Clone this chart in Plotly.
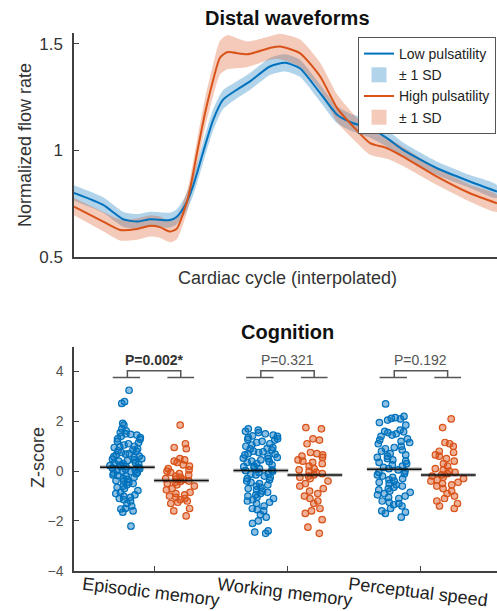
import plotly.graph_objects as go

# ---------------- Top panel data: distal waveforms ----------------
t_low = [0, 6.9, 11.6, 14.9, 18.0, 22.7, 24.3, 26.2, 28.1, 30.5, 32.9, 35.2, 38.5, 41.6,
         46.3, 49.9, 53.4, 58.2, 62.2, 66.0, 70.0, 74.0, 77.8, 85.8, 93.6, 100]
flow_low = [0.80, 0.744, 0.677, 0.666, 0.677, 0.673, 0.689, 0.74, 0.83, 0.99, 1.143, 1.237, 1.284, 1.323,
            1.393, 1.41, 1.385, 1.268, 1.167, 1.127, 1.104, 1.057, 1.002, 0.916, 0.854, 0.807]
sd_low = [0.036, 0.036, 0.035, 0.035, 0.035, 0.035, 0.035, 0.04, 0.045, 0.05, 0.05, 0.045, 0.04, 0.04,
          0.04, 0.04, 0.04, 0.04, 0.04, 0.04, 0.045, 0.04, 0.035, 0.032, 0.03, 0.03]

t_high = [0, 6.9, 10.9, 14.9, 18.0, 20.3, 22.7, 24.3, 27.0, 29.1, 31.0, 32.9, 34.5, 36.2,
          40.9, 46.3, 48.7, 53.4, 58.2, 62.2, 66.0, 70.0, 74.0, 77.8, 85.8, 93.6, 100]
flow_high = [0.736, 0.666, 0.627, 0.631, 0.646, 0.64, 0.619, 0.633, 0.78, 0.99, 1.176, 1.33, 1.434, 1.46,
             1.45, 1.48, 1.487, 1.456, 1.346, 1.198, 1.112, 1.034, 1.01, 0.971, 0.877, 0.799, 0.752]
sd_high = [0.04, 0.045, 0.05, 0.05, 0.05, 0.05, 0.05, 0.05, 0.05, 0.06, 0.07, 0.075, 0.08, 0.08,
           0.06, 0.055, 0.06, 0.065, 0.065, 0.065, 0.06, 0.055, 0.05, 0.045, 0.04, 0.04, 0.04]

y_ticks_top = [0.5, 1, 1.5]
y_ticktext_top = ["0.5", "1", "1.5"]

# ---------------- Bottom panel data: cognition ----------------
categories = ["Episodic memory", "Working memory", "Perceptual speed"]
cat_pos = [1, 2, 3]
p_values = ["<b>P=0.002*</b>", "P=0.321", "P=0.192"]

ep_low = [3.25, 2.79, 2.72, 1.92, 1.85, 1.7, 1.62, 1.55, 1.5, 1.48, 1.45, 1.4, 1.35, 1.3, 1.28, 1.2,
          1.15, 1.1, 1.05, 1.0, 0.98, 0.95, 0.9, 0.85, 0.82, 0.8, 0.75, 0.7, 0.68, 0.65, 0.6, 0.58,
          0.55, 0.5, 0.48, 0.45, 0.42, 0.4, 0.35, 0.32, 0.3, 0.28, 0.25, 0.22, 0.2, 0.18, 0.15, 0.12,
          0.1, 0.08, 0.05, 0.02, 0.0, -0.02, -0.05, -0.08, -0.1, -0.15, -0.18, -0.2, -0.25, -0.3,
          -0.33, -0.38, -0.4, -0.45, -0.5, -0.55, -0.6, -0.65, -0.7, -0.78, -0.85, -0.9, -0.95, -1.0,
          -1.05, -1.1, -1.15, -1.2, -1.3, -1.4, -1.5, -1.52, -1.6, -1.65, -2.21]
ep_high = [1.85, 1.1, 0.95, 0.9, 0.5, 0.45, 0.4, 0.35, 0.25, 0.2, 0.1, 0.05, 0.0, -0.05, -0.1, -0.15,
           -0.2, -0.25, -0.3, -0.32, -0.35, -0.4, -0.42, -0.45, -0.5, -0.55, -0.6, -0.7, -0.75, -0.85,
           -0.9, -0.95, -1.0, -1.05, -1.1, -1.15, -1.2, -1.25, -1.3, -1.5, -1.6, -1.8]
wm_low = [1.7, 1.65, 1.6, 1.55, 1.5, 1.45, 1.42, 1.4, 1.35, 1.3, 1.28, 1.25, 1.2, 1.15, 1.1, 1.05, 1.0,
          0.95, 0.92, 0.9, 0.85, 0.8, 0.78, 0.75, 0.7, 0.68, 0.65, 0.6, 0.55, 0.52, 0.5, 0.45, 0.4,
          0.38, 0.35, 0.3, 0.25, 0.2, 0.18, 0.15, 0.1, 0.05, 0.02, 0.0, -0.05, -0.1, -0.12, -0.15,
          -0.2, -0.25, -0.3, -0.35, -0.4, -0.45, -0.5, -0.55, -0.6, -0.65, -0.7, -0.75, -0.8, -0.85,
          -0.9, -0.95, -1.0, -1.05, -1.1, -1.15, -1.2, -1.25, -1.3, -1.4, -1.5, -1.55, -1.6, -1.75,
          -1.85, -2.0, -2.1, -2.4, -2.45, -2.5]
wm_high = [1.75, 1.7, 1.3, 1.25, 1.1, 0.75, 0.7, 0.65, 0.6, 0.55, 0.45, 0.4, 0.35, 0.3, 0.2, 0.1, 0.05,
           0.0, -0.05, -0.1, -0.15, -0.2, -0.25, -0.3, -0.4, -0.5, -0.6, -0.7, -0.8, -0.9, -1.0, -1.1,
           -1.2, -1.3, -1.5, -1.6, -1.7, -1.95, -2.25, -2.5]
ps_low = [2.7, 2.2, 2.15, 2.12, 2.1, 2.05, 1.95, 1.85, 1.65, 1.6, 1.58, 1.55, 1.5, 1.45, 1.4, 1.3, 1.25,
          1.2, 1.15, 1.1, 1.0, 0.95, 0.9, 0.85, 0.8, 0.7, 0.65, 0.6, 0.55, 0.5, 0.45, 0.4, 0.35, 0.3,
          0.25, 0.2, 0.15, 0.1, 0.05, 0.0, -0.05, -0.1, -0.15, -0.2, -0.25, -0.3, -0.35, -0.4, -0.45,
          -0.5, -0.55, -0.6, -0.65, -0.7, -0.75, -0.8, -0.85, -0.9, -0.95, -1.0, -1.05, -1.1, -1.2,
          -1.25, -1.3, -1.35, -1.4, -1.5, -1.6, -1.65, -1.7, -1.85]
ps_high = [2.1, 1.75, 1.15, 1.1, 1.0, 0.8, 0.75, 0.65, 0.6, 0.5, 0.4, 0.3, 0.2, 0.1, 0.05, 0.0, -0.05,
           -0.1, -0.15, -0.2, -0.25, -0.3, -0.35, -0.4, -0.45, -0.5, -0.55, -0.6, -0.7, -0.8, -0.9,
           -1.0, -1.1, -1.2, -1.3, -1.4, -1.5]

low_groups = [ep_low, wm_low, ps_low]
high_groups = [ep_high, wm_high, ps_high]
mean_low = [0.16, 0.03, 0.08]
mean_high = [-0.38, -0.15, -0.15]
z_ticks = [-4, -2, 0, 2, 4]

# ---------------- Styling ----------------
W, H = 497, 611
FONT = "Liberation Sans, Arial, Helvetica, sans-serif"
BLUE = "#0072BD"
ORANGE = "#D95319"
BLUE_SD = "rgba(0,114,189,0.30)"
ORANGE_SD = "rgba(217,83,25,0.30)"
AX = "#404040"


def px_x(p):
    return p / W


def px_y(p):
    return 1 - p / H


fig = go.Figure()


def band(t, m, s):
    up = [a + b for a, b in zip(m, s)]
    lo = [a - b for a, b in zip(m, s)]
    return list(t) + list(t)[::-1], up + lo[::-1]


# Top panel: SD bands then mean lines
bx, by = band(t_low, flow_low, sd_low)
fig.add_trace(go.Scatter(x=bx, y=by, fill="toself", fillcolor=BLUE_SD,
                         line=dict(width=0, shape="spline", smoothing=0.6), showlegend=False,
                         xaxis="x", yaxis="y", hoverinfo="skip"))
ox, oy = band(t_high, flow_high, sd_high)
fig.add_trace(go.Scatter(x=ox, y=oy, fill="toself", fillcolor=ORANGE_SD,
                         line=dict(width=0, shape="spline", smoothing=0.6), showlegend=False,
                         xaxis="x", yaxis="y", hoverinfo="skip"))
fig.add_trace(go.Scatter(x=t_low, y=flow_low, mode="lines", name="Low pulsatility",
                         line=dict(color=BLUE, width=2, shape="spline", smoothing=0.6),
                         legendrank=1, xaxis="x", yaxis="y"))
fig.add_trace(go.Scatter(x=t_high, y=flow_high, mode="lines", name="High pulsatility",
                         line=dict(color=ORANGE, width=2, shape="spline", smoothing=0.6),
                         legendrank=3, xaxis="x", yaxis="y"))
# legend entries for the SD bands (square swatches)
for col, rank in [(BLUE_SD, 2), (ORANGE_SD, 4)]:
    fig.add_trace(go.Scatter(x=[None], y=[None], mode="markers", name="± 1 SD",
                             marker=dict(symbol="square", size=15, color=col, line=dict(width=0)),
                             legendrank=rank, xaxis="x", yaxis="y"))

# Bottom panel: jittered points via box traces (box hidden)
OFF = 0.2
for i, c in enumerate(cat_pos):
    for vals, sign, col, rgba in [(low_groups[i], -1, BLUE, "rgba(0,114,189,0.45)"),
                                  (high_groups[i], 1, ORANGE, "rgba(217,83,25,0.45)")]:
        fig.add_trace(go.Box(y=vals, x0=c + sign * OFF, width=0.27, boxpoints="all", jitter=1,
                             pointpos=0, fillcolor="rgba(0,0,0,0)",
                             line=dict(color="rgba(0,0,0,0)", width=0),
                             marker=dict(color=rgba, size=6.5, line=dict(color=col, width=1.2)),
                             showlegend=False, xaxis="x2", yaxis="y2", hoverinfo="y"))

# Mean lines
for i, c in enumerate(cat_pos):
    for xs, m in [([c - 0.405, c + 0.005], mean_low[i]), ([c, c + 0.41], mean_high[i])]:
        fig.add_trace(go.Scatter(x=xs, y=[m, m], mode="lines",
                                 line=dict(color="rgba(0,0,0,0.25)", width=4),
                                 showlegend=False, xaxis="x2", yaxis="y2", hoverinfo="skip"))
        fig.add_trace(go.Scatter(x=xs, y=[m, m], mode="lines",
                                 line=dict(color="#111111", width=1.5),
                                 showlegend=False, xaxis="x2", yaxis="y2", hoverinfo="skip"))

# Brackets
shapes = []
for c in cat_pos:
    path = (f"M {c-0.31},3.76 L {c-0.105},3.76 M {c-0.2},3.76 L {c-0.2},4.03 L {c+0.2},4.03 "
            f"L {c+0.2},3.76 M {c+0.1},3.76 L {c+0.3},3.76")
    shapes.append(dict(type="path", path=path, xref="x2", yref="y2",
                       line=dict(color="#555555", width=1.5)))

annotations = []
annotations.append(dict(text="<b>Distal waveforms</b>", x=px_x(287), y=px_y(18), xref="paper",
                        yref="paper", showarrow=False, font=dict(size=20, color="#111"),
                        xanchor="center", yanchor="middle"))
annotations.append(dict(text="Cardiac cycle (interpolated)", x=px_x(287), y=px_y(278), xref="paper",
                        yref="paper", showarrow=False, font=dict(size=18, color="#333"),
                        xanchor="center", yanchor="middle"))
annotations.append(dict(text="Normalized flow rate", x=px_x(25), y=px_y(145), xref="paper",
                        yref="paper", showarrow=False, textangle=-90, font=dict(size=18, color="#333"),
                        xanchor="center", yanchor="middle"))
annotations.append(dict(text="<b>Cognition</b>", x=px_x(287), y=px_y(332), xref="paper",
                        yref="paper", showarrow=False, font=dict(size=20, color="#111"),
                        xanchor="center", yanchor="middle"))
annotations.append(dict(text="Z-score", x=px_x(38), y=px_y(458), xref="paper",
                        yref="paper", showarrow=False, textangle=-90, font=dict(size=18, color="#333"),
                        xanchor="center", yanchor="middle"))
for c, lab, p in zip(cat_pos, categories, p_values):
    annotations.append(dict(text=lab, x=c - 0.02, y=px_y(592), xref="x2", yref="paper",
                            showarrow=False, textangle=7, font=dict(size=18, color="#222"),
                            xanchor="center", yanchor="middle"))
    annotations.append(dict(text=p, x=c, y=4.47, xref="x2", yref="y2", showarrow=False,
                            font=dict(size=14, color="#333" if "<b>" in p else "#555"),
                            xanchor="center", yanchor="middle"))

fig.update_layout(
    width=W, height=H, autosize=False, margin=dict(l=0, r=0, t=0, b=0, pad=0, autoexpand=False),
    paper_bgcolor="white", plot_bgcolor="white",
    font=dict(family=FONT, color="#333"),
    showlegend=True,
    legend=dict(x=0.998, y=px_y(37), xanchor="right", yanchor="top", bgcolor="white",
                bordercolor="#555", borderwidth=1, font=dict(size=14, color="#222"),
                tracegroupgap=0, itemwidth=30),
    xaxis=dict(domain=[px_x(74), 1], anchor="y", range=[0, 100], showline=True, linecolor=AX,
               linewidth=1.5, showgrid=False, zeroline=False, showticklabels=False, ticks="",
               automargin=False),
    yaxis=dict(domain=[px_y(257), px_y(33)], anchor="x", range=[0.5, 1.55], showline=True,
               linecolor=AX, linewidth=1.5, showgrid=False, zeroline=False,
               tickvals=y_ticks_top, ticktext=y_ticktext_top, ticks="inside", ticklen=5,
               tickcolor=AX, tickfont=dict(size=17, color="#333"), ticklabelstandoff=6,
               automargin=False),
    xaxis2=dict(domain=[px_x(74), 1], anchor="y2", range=[0.4, 3.57], showline=True, linecolor=AX,
                linewidth=1.5, showgrid=False, zeroline=False, showticklabels=False,
                tickvals=cat_pos, ticks="inside", ticklen=5, tickcolor=AX, automargin=False),
    yaxis2=dict(domain=[px_y(570.7), px_y(346.7)], anchor="x2", range=[-4, 5], showline=True,
                linecolor=AX, linewidth=1.5, showgrid=False, zeroline=False,
                tickvals=z_ticks, ticks="inside", ticklen=5, tickcolor=AX,
                tickfont=dict(size=14, color="#555"), ticklabelstandoff=6, automargin=False),
    shapes=shapes, annotations=annotations,
)

fig.write_html("out.html", config={"displayModeBar": False, "responsive": False},
               post_script="document.body.style.margin='0';")
